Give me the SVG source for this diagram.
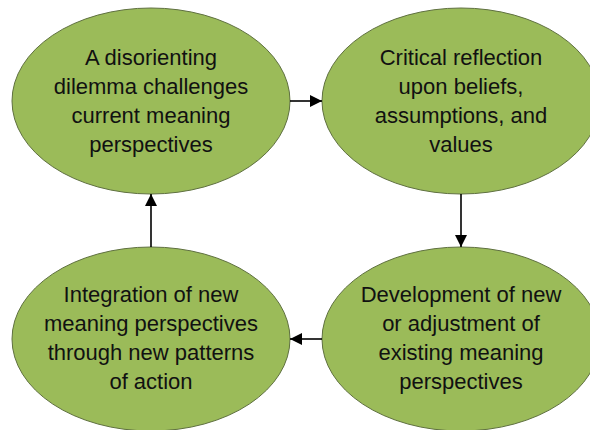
<svg xmlns="http://www.w3.org/2000/svg" width="590" height="430" viewBox="0 0 590 430">
<defs>
<style>
.node ellipse{fill:#9BBB59;stroke:#5f7040;stroke-width:1}
.node text{font-family:"Liberation Sans",Arial,sans-serif;font-size:22px;fill:#111;text-anchor:middle}
.conn line{stroke:#000;stroke-width:1.6;fill:none}
</style>
<marker id="ah" viewBox="0 0 12 12" refX="12" refY="6" markerWidth="12" markerHeight="12" markerUnits="userSpaceOnUse" orient="auto">
<path d="M0,0 L12,6 L0,12 Z" fill="#000"/>
</marker>
</defs>
<rect width="590" height="430" fill="#fff"/>
<g id="n1" class="node">
<ellipse cx="151" cy="101" rx="139" ry="93"/>
<text x="151" y="65">A disorienting</text>
<text x="151" y="94">dilemma challenges</text>
<text x="151" y="123">current meaning</text>
<text x="151" y="152">perspectives</text>
</g>
<g id="n2" class="node">
<ellipse cx="461" cy="101" rx="139" ry="93"/>
<text x="461" y="65">Critical reflection</text>
<text x="461" y="94">upon beliefs,</text>
<text x="461" y="123">assumptions, and</text>
<text x="461" y="152">values</text>
</g>
<g id="n3" class="node">
<ellipse cx="461" cy="339" rx="139" ry="92"/>
<text x="461" y="302">Development of new</text>
<text x="461" y="331">or adjustment of</text>
<text x="461" y="360">existing meaning</text>
<text x="461" y="389">perspectives</text>
</g>
<g id="n4" class="node">
<ellipse cx="151" cy="339" rx="139" ry="92"/>
<text x="151" y="302">Integration of new</text>
<text x="151" y="331">meaning perspectives</text>
<text x="151" y="360">through new patterns</text>
<text x="151" y="389">of action</text>
</g>
<g id="connectors" class="conn">
<line x1="290" y1="101" x2="322" y2="101" marker-end="url(#ah)"/>
<line x1="461" y1="194" x2="461" y2="247" marker-end="url(#ah)"/>
<line x1="322" y1="339" x2="290" y2="339" marker-end="url(#ah)"/>
<line x1="151" y1="247" x2="151" y2="194" marker-end="url(#ah)"/>
</g>
</svg>
